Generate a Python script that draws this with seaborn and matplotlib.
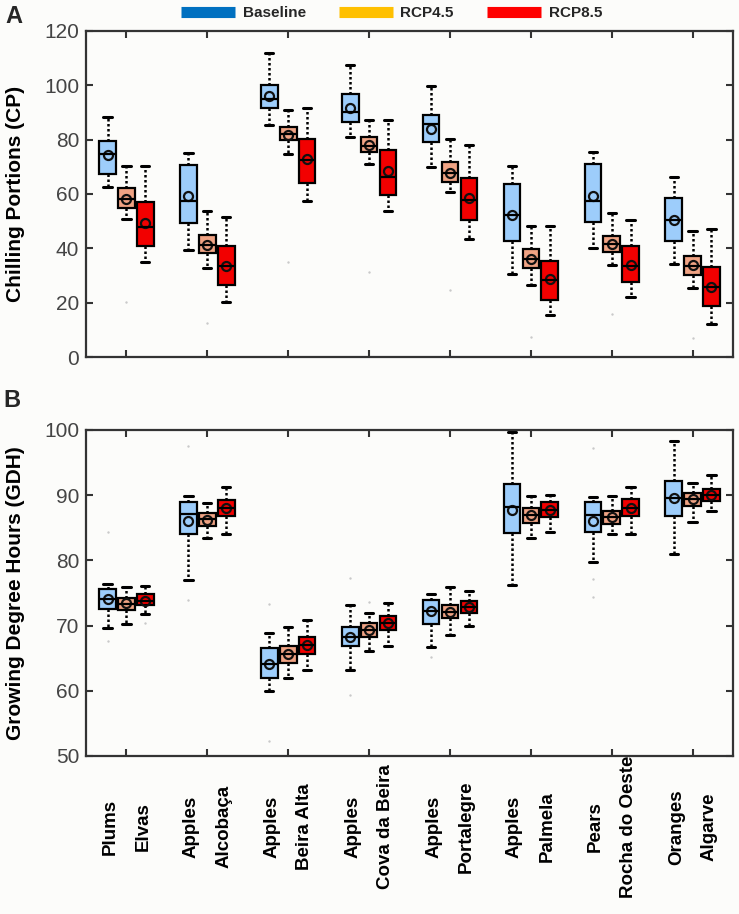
import numpy as np
import pandas as pd
import matplotlib
matplotlib.use("Agg")
import matplotlib.pyplot as plt
import seaborn as sns
from matplotlib.lines import Line2D

# ---- data ----
crops = ["Plums", "Apples", "Apples", "Apples", "Apples", "Apples", "Pears", "Oranges"]
regions = ["Elvas", "Alcobaça", "Beira Alta", "Cova da Beira", "Portalegre",
           "Palmela", "Rocha do Oeste", "Algarve"]
scenarios = ["Baseline", "RCP4.5", "RCP8.5"]

# Chilling Portions, rows = regions, cols = scenarios
cp_lo = [[62.6, 50.7, 35.1], [39.4, 32.6, 20.4], [85.5, 74.9, 57.4], [81.0, 71.1, 53.6],
         [69.8, 60.9, 43.3], [30.7, 26.5, 15.5], [40.1, 33.7, 22.2], [34.4, 25.3, 12.1]]
cp_q1 = [[67.5, 54.7, 41.0], [49.4, 38.2, 26.6], [91.7, 79.7, 63.9], [86.6, 75.5, 59.6],
         [79.0, 64.5, 50.3], [42.8, 32.8, 21.0], [49.8, 38.5, 27.6], [42.6, 30.1, 18.6]]
cp_med = [[74.6, 58.2, 48.0], [57.5, 41.4, 33.4], [94.9, 82.0, 72.4], [90.2, 77.8, 66.4],
          [85.8, 67.8, 57.8], [52.2, 36.0, 28.5], [57.4, 41.6, 33.6], [50.5, 33.6, 25.6]]
cp_q3 = [[79.5, 62.1, 57.2], [70.7, 44.9, 41.0], [100.2, 84.8, 80.4], [96.7, 81.0, 76.2],
         [89.0, 71.8, 65.9], [63.8, 39.8, 35.4], [70.9, 44.7, 40.7], [58.5, 37.2, 33.1]]
cp_hi = [[88.5, 70.4, 70.4], [75.0, 53.8, 51.6], [111.8, 90.9, 91.8], [107.5, 87.4, 87.1],
         [99.9, 80.4, 78.0], [70.2, 48.4, 48.2], [75.3, 53.0, 50.4], [66.2, 46.4, 47.0]]
cp_mean = [[74.2, 58.0, 49.2], [59.2, 41.4, 33.6], [96.1, 81.8, 72.8], [91.8, 78.0, 68.5],
           [84.0, 67.9, 58.4], [52.3, 36.0, 28.6], [59.4, 41.7, 33.9], [50.5, 33.8, 25.9]]
cp_out_site = [0, 1, 2, 3, 4, 5, 6, 7]
cp_out_scen = [1, 1, 1, 1, 1, 1, 1, 1]
cp_out_val = [20.3, 12.7, 35.1, 31.3, 24.8, 7.4, 15.7, 7.1]

# Growing Degree Hours
gdh_lo = [[69.6, 70.2, 71.7], [77.0, 83.5, 84.0], [59.9, 61.9, 63.2], [63.2, 66.1, 66.8],
          [66.7, 68.6, 69.9], [76.2, 83.5, 84.4], [79.8, 84.0, 84.0], [80.9, 85.9, 87.6]]
gdh_q1 = [[72.5, 72.4, 73.1], [84.0, 85.3, 86.8], [61.9, 64.2, 65.6], [66.9, 68.3, 69.3],
          [70.3, 71.1, 71.9], [84.2, 85.8, 86.7], [84.3, 85.6, 86.8], [86.8, 88.3, 89.1]]
gdh_med = [[74.1, 73.3, 73.8], [87.1, 86.3, 88.1], [64.1, 65.6, 67.0], [68.2, 69.3, 70.4],
           [72.3, 72.1, 72.8], [88.2, 86.9, 87.7], [87.0, 86.6, 88.1], [89.5, 89.4, 90.0]]
gdh_q3 = [[75.6, 74.3, 74.8], [89.0, 87.3, 89.3], [66.5, 66.8, 68.3], [69.8, 70.4, 71.5],
          [73.9, 73.1, 73.8], [91.7, 88.0, 88.9], [89.0, 87.5, 89.4], [92.1, 90.3, 91.0]]
gdh_hi = [[76.4, 75.9, 76.0], [89.8, 88.8, 91.3], [68.9, 69.8, 70.9], [73.1, 72.0, 73.5],
          [74.8, 75.9, 75.3], [99.7, 89.8, 90.0], [89.7, 89.8, 91.2], [98.3, 91.9, 93.1]]
gdh_mean = [[74.1, 73.4, 73.8], [86.0, 86.2, 88.1], [64.1, 65.6, 67.0], [68.2, 69.3, 70.4],
            [72.3, 72.1, 72.8], [87.7, 86.9, 87.7], [86.1, 86.6, 88.1], [89.5, 89.4, 90.0]]
gdh_out_site = [0, 0, 0, 1, 1, 2, 2, 3, 3, 3, 4, 5, 6, 6, 6]
gdh_out_scen = [0, 0, 2, 0, 0, 0, 0, 0, 0, 1, 0, 0, 0, 0, 0]
gdh_out_val = [84.4, 67.7, 70.4, 97.5, 73.9, 73.3, 52.3, 77.3, 59.4, 73.6, 65.2, 81.9,
               97.3, 77.1, 74.4]

box_colors = ["#9DCDFB", "#F0A384", "#F20000"]
legend_colors = ["#0070C0", "#FFC000", "#FF0000"]
sites = [f"{c}\n{r}" for c, r in zip(crops, regions)]


def box_frame(lo, q1, med, q3, hi):
    # five values per box -> quartiles / whisker ends reproduce exactly
    rows = []
    for i, site in enumerate(sites):
        for j, sc in enumerate(scenarios):
            for v in (lo[i][j], q1[i][j], med[i][j], q3[i][j], hi[i][j]):
                rows.append({"site": site, "scenario": sc, "value": v})
    return pd.DataFrame(rows)


def mean_frame(mean):
    rows = [{"site": s, "scenario": sc, "mean": mean[i][j]}
            for i, s in enumerate(sites) for j, sc in enumerate(scenarios)]
    return pd.DataFrame(rows)


sns.set_theme(style="ticks")
plt.rcParams["font.family"] = ["Liberation Sans", "DejaVu Sans"]
bg = "#fcfcfa"

fig = plt.figure(figsize=(7.39, 9.14), dpi=100, facecolor=bg)
ax_a = fig.add_axes([0.1164, 0.6094, 0.8755, 0.3567])
ax_b = fig.add_axes([0.1164, 0.1729, 0.8755, 0.3567])

group_w = 0.7
step = group_w / 3

panels = [
    (ax_a, (cp_lo, cp_q1, cp_med, cp_q3, cp_hi), cp_mean,
     (cp_out_site, cp_out_scen, cp_out_val), "Chilling Portions (CP)", (0, 120), 20),
    (ax_b, (gdh_lo, gdh_q1, gdh_med, gdh_q3, gdh_hi), gdh_mean,
     (gdh_out_site, gdh_out_scen, gdh_out_val), "Growing Degree Hours (GDH)", (50, 100), 10),
]

for ax, stats, mean, outl, ylab, ylim, ystep in panels:
    ax.set_facecolor(bg)
    sns.boxplot(data=box_frame(*stats), x="site", y="value", hue="scenario",
                order=sites, hue_order=scenarios, palette=box_colors, saturation=1,
                width=group_w, gap=0.12, whis=(0, 100), showfliers=False,
                linecolor="black", linewidth=1.6,
                whiskerprops={"linestyle": (0, (1, 1)), "linewidth": 1.8},
                capprops={"linewidth": 2.2},
                legend=False, ax=ax)
    sns.pointplot(data=mean_frame(mean), x="site", y="mean", hue="scenario",
                  order=sites, hue_order=scenarios, palette=box_colors,
                  dodge=2 * step, linestyle="none", markers="o", errorbar=None,
                  markersize=6.5, markeredgewidth=1.6, markeredgecolor="#111111",
                  markerfacecolor="none", legend=False, ax=ax)
    # faint outliers
    o_site, o_scen, o_val = outl
    ox = np.array(o_site) + (np.array(o_scen) - 1) * step
    ax.scatter(ox, o_val, s=3, color="#c9c9c9", linewidths=0, zorder=1)

    ax.set_xlim(-0.5, len(sites) - 0.5)
    ax.set_ylim(*ylim)
    ax.set_yticks(np.arange(ylim[0], ylim[1] + 1, ystep))
    ax.set_xlabel("")
    ax.set_ylabel(ylab, fontsize=15, fontweight="bold", color="black")
    ax.yaxis.set_label_coords(-0.094, 0.5)
    ax.tick_params(direction="in", top=True, right=True, length=5, width=1.5,
                   color="#333333", labelsize=15, labelcolor="#444444", pad=5)
    for sp in ax.spines.values():
        sp.set_visible(True)
        sp.set_linewidth(1.6)
        sp.set_color("#333333")

ax_a.tick_params(axis="x", labelbottom=False)
ax_b.tick_params(axis="x", labelrotation=90, pad=51, labelcolor="black")
for lbl in ax_b.get_xticklabels():
    lbl.set_fontweight("bold")
    lbl.set_fontsize(13.5)
    lbl.set_va("center")
    lbl.set_ha("center")
    lbl.set_linespacing(2.2)

handles = [Line2D([0], [0], color=c, lw=8, solid_capstyle="butt") for c in legend_colors]
fig.legend(handles, scenarios, loc="center", bbox_to_anchor=(0.53, 1 - 13 / 914),
           ncol=3, frameon=False, prop={"weight": "bold", "size": 11},
           handlelength=3.5, columnspacing=2.2, handletextpad=0.5)

fig.text(5 / 739, 1 - 5 / 914, "A", fontsize=17, fontweight="bold", va="top", ha="left")
fig.text(3 / 739, 1 - 389 / 914, "B", fontsize=17, fontweight="bold", va="top", ha="left")

fig.savefig("out.png", dpi=100, facecolor=bg)
